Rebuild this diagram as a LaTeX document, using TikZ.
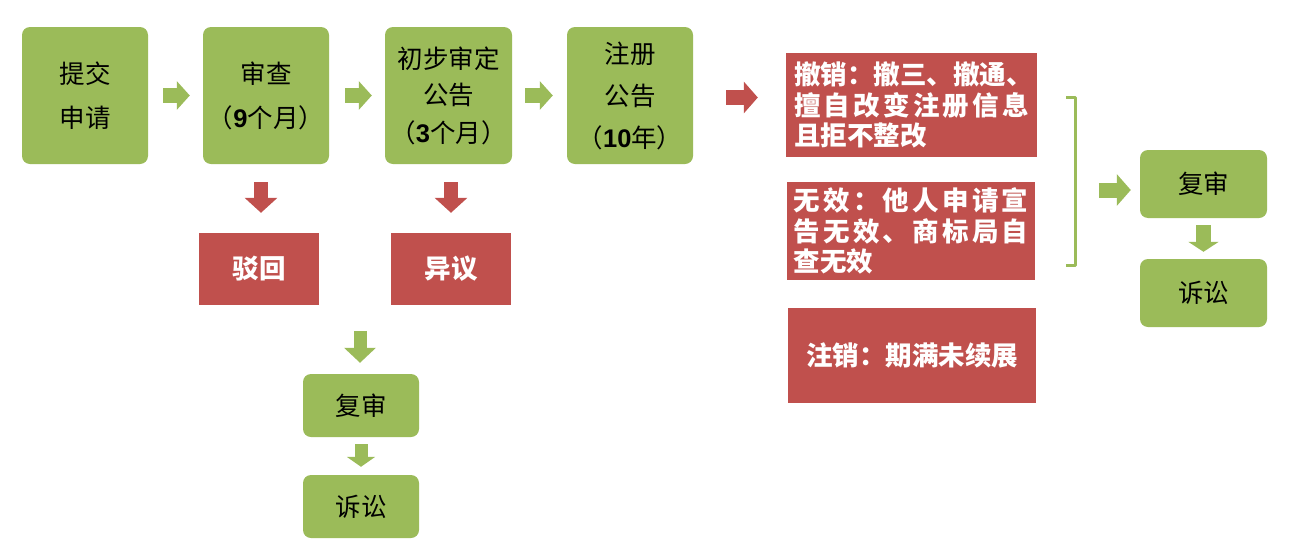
\documentclass[tikz,border=0pt]{standalone}
\usepackage{fontspec}
\setmainfont{Noto Sans CJK SC}
\newfontfamily\lat{Liberation Sans}
\usetikzlibrary{arrows.meta}
\definecolor{gfill}{HTML}{9BBB59}
\definecolor{rfill}{HTML}{C0504D}
\makeatletter
\newcommand\spreadline[2]{\hbox to #1{\@tfor\ch:=#2\do{\ch\hfil}\unskip}}
\makeatother
\newcommand\num[1]{{\lat\bfseries #1}}
\tikzset{
  gbox/.style={fill=gfill, rounded corners=8pt, align=center, inner sep=0pt,
    font=\fontsize{25.5}{30}\selectfont, text=black},
  rbox/.style={fill=rfill, align=left, inner sep=0pt,
    font=\fontsize{26.5}{30.5}\selectfont\bfseries, text=white},
  garrow/.style={draw=gfill, line width=15pt, -{Triangle[length=13pt,width=28pt]}},
  rarrow/.style={draw=rfill, line width=15pt, -{Triangle[length=14pt,width=31pt]}},
  bracketline/.style={draw=gfill, line width=3pt, line join=round}
}
\begin{document}
\begin{tikzpicture}[x=1pt,y=-1pt]
\useasboundingbox (0,0) rectangle (1315,552);
% top row
\node[gbox, minimum width=126pt, minimum height=137pt] (n1) at (85,95.5) {提交\\[14pt]申请};
\node[gbox, minimum width=126pt, minimum height=137pt] (n2) at (266,95.5) {审查\\[14pt]（\num{9}个月）};
\node[gbox, minimum width=127pt, minimum height=137pt] (n3) at (448.5,95.5) {初步审定\\[6pt]公告\\[8pt]（\num{3}个月）};
\node[gbox, minimum width=126pt, minimum height=137pt] (n4) at (630,95.5) {注册\\[12pt]公告\\[12pt]（\num{10}年）};
% red results
\node[rbox, align=center, minimum width=120pt, minimum height=72pt] (r1) at (259,269) {驳回};
\node[rbox, align=center, minimum width=120pt, minimum height=72pt] (r2) at (451,269) {异议};
% bottom middle
\node[gbox, minimum width=116pt, minimum height=63pt] (g5) at (361,405.5) {复审};
\node[gbox, minimum width=116pt, minimum height=63pt] (g6) at (361,506.5) {诉讼};
% right red boxes
\node[rbox, minimum width=251pt, minimum height=104pt] (rr1) at (911.5,105)
  {\spreadline{235pt}{撤销：撤三、撤通、}\\\spreadline{235pt}{擅自改变注册信息}\\且拒不整改};
\node[rbox, minimum width=248pt, minimum height=98pt] (rr2) at (911,231)
  {\spreadline{235pt}{无效：他人申请宣}\\\spreadline{235pt}{告无效、商标局自}\\查无效};
\node[rbox, align=center, minimum width=248pt, minimum height=95pt] (rr3) at (912,355.5) {注销：期满未续展};
% right green boxes
\node[gbox, minimum width=127pt, minimum height=68pt] (g7) at (1203.5,184) {复审};
\node[gbox, minimum width=127pt, minimum height=68pt] (g8) at (1203.5,293) {诉讼};
% bracket
\coordinate (bt) at (1075,97);
\coordinate (bb) at (1075,265);
\draw[bracketline] ([xshift=-9pt]bt) -- (bt) -- (bb) -- ([xshift=-9pt]bb);
% arrows
\coordinate (ra) at ([xshift=33pt,yshift=-2pt]n4.east);
\coordinate (rb) at ([xshift=-28pt]rr1.west);
\draw[garrow] ([xshift=15pt]n1.east) -- ([xshift=-13pt]n2.west);
\draw[garrow] ([xshift=16pt]n2.east) -- ([xshift=-13pt]n3.west);
\draw[garrow] ([xshift=13pt]n3.east) -- ([xshift=-14pt]n4.west);
\draw[rarrow] (ra) -- (rb |- ra);
\draw[rarrow, -{Triangle[length=15pt,width=32pt]}, line width=14pt] ([xshift=-5pt,yshift=-18pt]n2.south) -- ([xshift=2pt,yshift=20pt]r1.north);
\draw[rarrow, -{Triangle[length=15pt,width=32pt]}, line width=14pt] ([xshift=2.5pt,yshift=-18pt]n3.south) -- ([yshift=20pt]r2.north);
\draw[garrow, -{Triangle[length=15pt,width=31pt]}, line width=13pt] ([xshift=-1pt,yshift=43pt]g5.north) -- ([xshift=-1pt,yshift=11pt]g5.north);
\draw[garrow, -{Triangle[length=10pt,width=28pt]}, line width=13pt] ([yshift=-7pt]g5.south) -- ([yshift=8pt]g6.north);
\draw[garrow, -{Triangle[length=14pt,width=31pt]}] ([xshift=-41pt,yshift=-6pt]g7.west) -- ([xshift=-9pt,yshift=-6pt]g7.west);
\draw[garrow, -{Triangle[length=10pt,width=30pt]}] ([yshift=-7pt]g7.south) -- ([yshift=7pt]g8.north);
\end{tikzpicture}
\end{document}
